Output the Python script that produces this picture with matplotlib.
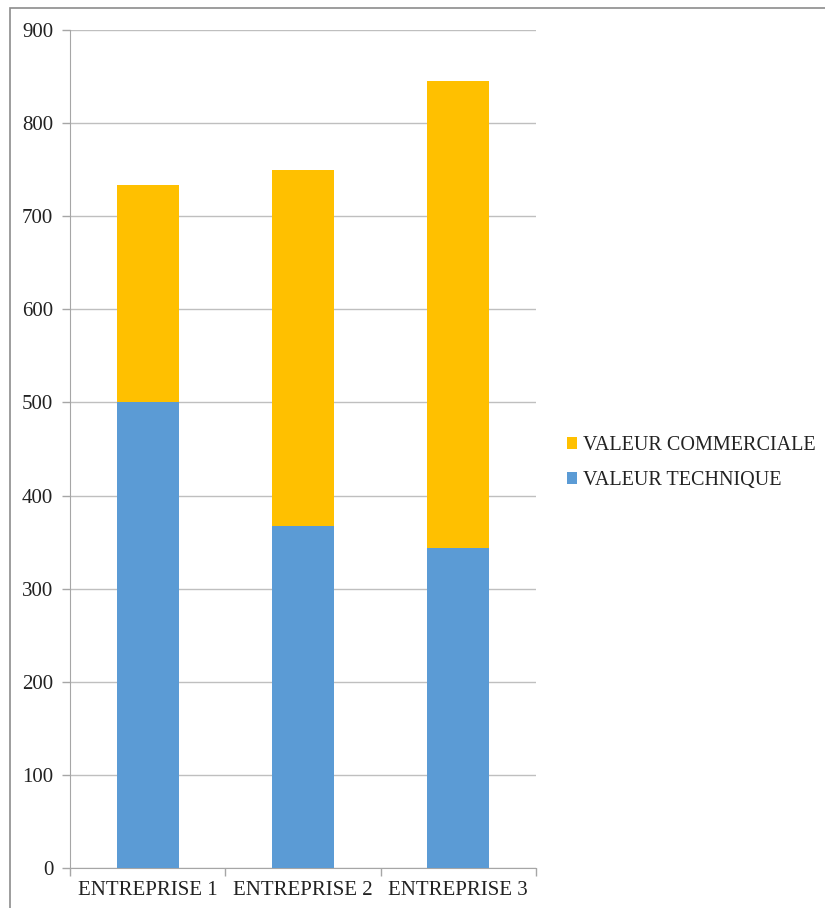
import matplotlib.pyplot as plt
import numpy as np
from matplotlib.patches import Rectangle

# donnees
entreprises = ["ENTREPRISE 1", "ENTREPRISE 2", "ENTREPRISE 3"]
valeur_technique = [500, 367, 344]
valeur_commerciale = [233, 383, 501]

plt.rcParams['font.family'] = ['Liberation Serif', 'DejaVu Serif']

fig = plt.figure(figsize=(8.25, 9.08), dpi=100)
ax = fig.add_axes([70/825, 1-868/908, (536-70)/825, (868-30)/908])

x = np.arange(len(entreprises))
largeur = 0.4
b1 = ax.bar(x, valeur_technique, largeur, color='#5b9bd5', zorder=3)
b2 = ax.bar(x, valeur_commerciale, largeur, bottom=valeur_technique,
            color='#ffc000', zorder=3)

ax.set_xlim(-0.5, 2.5)
ax.set_ylim(0, 900)
ax.set_yticks(np.arange(0, 901, 100))
ax.yaxis.grid(True, color='#bfbfbf', linewidth=1, zorder=0)
ax.tick_params(axis='y', labelsize=15, color='#a6a6a6', length=6, width=1, pad=6,
               labelcolor='#222222')

# ticks entre les categories
ax.set_xticks(np.arange(-0.5, 2.6, 1))
ax.set_xticklabels([])
ax.set_xticks(x, minor=True)
ax.set_xticklabels(entreprises, minor=True)
ax.tick_params(axis='x', which='major', color='#a6a6a6', length=6, width=1)
ax.tick_params(axis='x', which='minor', length=0, labelsize=15, pad=9.5,
               labelcolor='#222222')

for s in ['top', 'right']:
    ax.spines[s].set_visible(False)
for s in ['left', 'bottom']:
    ax.spines[s].set_color('#a6a6a6')

leg = fig.legend([b2, b1], ["VALEUR COMMERCIALE", "VALEUR TECHNIQUE"],
                 loc='center left', bbox_to_anchor=(549/825, 1-463/908),
                 frameon=False, fontsize=14.5, handlelength=0.5, handleheight=0.5,
                 handletextpad=0.3, labelspacing=0.8, labelcolor='#222222')

# cadre autour du graphique
fig.patches.append(Rectangle((10/825, -0.1), 2, 1.1 - 8/908, transform=fig.transFigure,
                             fill=False, edgecolor='#8c8c8c', linewidth=1.2))

plt.savefig("out.png")
